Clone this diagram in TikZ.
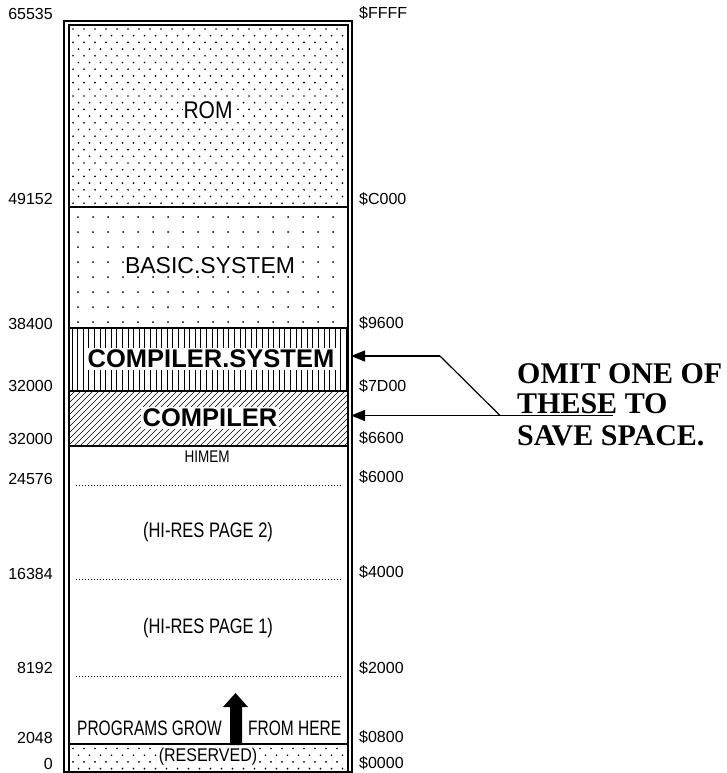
\documentclass[tikz,border=0pt]{standalone}
\usepackage{fontspec}
\usepackage{graphicx}
\setmainfont{Liberation Serif}
\setsansfont{Liberation Sans}
\usetikzlibrary{arrows.meta}
\begin{document}
\begin{tikzpicture}[x=1pt,y=-1pt,
  lab/.style={font=\sffamily\fontsize{16}{18}\selectfont, inner sep=0pt},
  cond/.style={font=\sffamily\fontsize{#1}{18}\selectfont, inner sep=1pt, fill=white},
  bigbold/.style={font=\sffamily\bfseries\fontsize{25.5}{28}\selectfont, fill=white, inner sep=1.5pt},
  note/.style={font=\rmfamily\bfseries\fontsize{30}{32}\selectfont, inner sep=0pt, anchor=base west},
  divider/.style={line width=1.2pt},
  frameline/.style={line width=1.3pt},
  dotline/.style={line width=1pt, dash pattern=on 1pt off 2pt},
  pointer/.style={line width=1.2pt, -{Triangle[length=14pt,width=11pt]}},
  dotfill/.style={fill=black}
]
\useasboundingbox (0,0) rectangle (726,773);

% ROM dense dots
\begin{scope}
  \clip (69,25) rectangle (348,207);
  \foreach \r in {0,...,13}{
    \foreach \c in {0,...,25}{
      \fill[dotfill] (73+11*\c, 29+13.4*\r) circle (0.95pt);
      \fill[dotfill] (78.5+11*\c, 35.7+13.4*\r) circle (0.95pt);
    }
  }
\end{scope}
% BASIC.SYSTEM sparse dots
\foreach \r in {0,...,7}{
  \foreach \c in {0,...,17}{
    \fill[dotfill] (78+15*\c, 217+15*\r) circle (1pt);
  }
}
% RESERVED dense dots
\begin{scope}
  \clip (69,744) rectangle (348,772);
  \foreach \r in {0,1}{
    \foreach \c in {0,...,25}{
      \fill[dotfill] (73+11*\c, 748.5+13.4*\r) circle (0.95pt);
      \fill[dotfill] (78.5+11*\c, 755.2+13.4*\r) circle (0.95pt);
    }
  }
\end{scope}
% COMPILER.SYSTEM vertical lines
\foreach \i in {0,...,49}{
  \draw[line width=0.8pt] (72+5.6*\i, 328) -- (72+5.6*\i, 391);
}
% COMPILER diagonal hatch
\begin{scope}
  \clip (69,391) rectangle (348,446);
  \foreach \i in {0,...,56}{
    \draw[line width=0.6pt] (14+6*\i, 446) -- ++(56,-56);
  }
\end{scope}

% region texts
\node[cond=21] (rom) at (208,110) {\scalebox{1}[1.15]{ROM}};
\node[cond=23] (basic) at (210,266) {BASIC.SYSTEM};
\node[bigbold] (compsys) at (211,359) {COMPILER.SYSTEM};
\node[bigbold] (comp) at (210,418) {COMPILER};
\node[cond=13.5, fill=none] (himem) at (207,457) {\scalebox{1}[1.25]{HIMEM}};
\node[cond=16.5, fill=none] (hires2) at (208,532) {\scalebox{1}[1.27]{(HI-RES PAGE 2)}};
\node[cond=16.5, fill=none] (hires1) at (208,628) {\scalebox{1}[1.27]{(HI-RES PAGE 1)}};
\node[cond=15.5, fill=none, anchor=west] (grow) at (76,728) {\scalebox{1}[1.35]{PROGRAMS GROW}};
\node[cond=15.5, fill=none, anchor=west] (here) at (247,728) {\scalebox{1}[1.35]{FROM HERE}};
\node[cond=16, inner sep=0.5pt] (resv) at (208,757) {\scalebox{1}[1.15]{(RESERVED)}};

% big upward arrow
\fill (230,745) -- (230,707) -- (223,707) -- (235.5,693) -- (248,707) -- (242,707) -- (242,745) -- cycle;

% dividers
\draw[divider] (69,207) -- (348,207);
\draw[divider] (69,328) -- (348,328);
\draw[divider] (69,391) -- (348,391);
\draw[divider] (69,446) -- (348,446);
\draw[divider] (69,744) -- (348,744);
\draw[dotline] (76,485) -- (342,485);
\draw[dotline] (76,579) -- (342,579);
\draw[dotline] (76,676) -- (342,676);

% frame
\draw[frameline] (64,21) rectangle (352,772);
\draw[frameline] (69,25) rectangle (348,772);

% address labels
\foreach \y/\t [count=\i] in {14/65535, 199/49152, 324/38400, 386/32000, 439/32000, 479/24576, 574/16384, 668/8192, 738/2048, 764/0}{
  \node[lab, anchor=east] (dec\i) at (53,\y) {\t};
}
\foreach \y/\t [count=\i] in {13/\$FFFF, 199/\$C000, 323/\$9600, 386/\$7D00, 438/\$6600, 477/\$6000, 572/\$4000, 668/\$2000, 737/\$0800, 763/\$0000}{
  \node[lab, anchor=west] (hex\i) at (359,\y) {\t};
}

% note
\node[note] (n1) at (517,383) {OMIT ONE OF};
\node[note] (n2) at (517,413) {THESE TO};
\node[note] (n3) at (517,445) {SAVE SPACE.};

\coordinate (tipA) at (351,356);
\coordinate (tipB) at (351,415);
\coordinate (bendA) at (440,356);
\coordinate (footA) at (500,415.5);
\coordinate (ulEnd) at (613,415.5);

\draw[line width=1.2pt] (footA) -- (bendA);
\draw[pointer] (bendA) -- (tipA);
\draw[pointer] (ulEnd) -- (tipB |- ulEnd);
\end{tikzpicture}
\end{document}
